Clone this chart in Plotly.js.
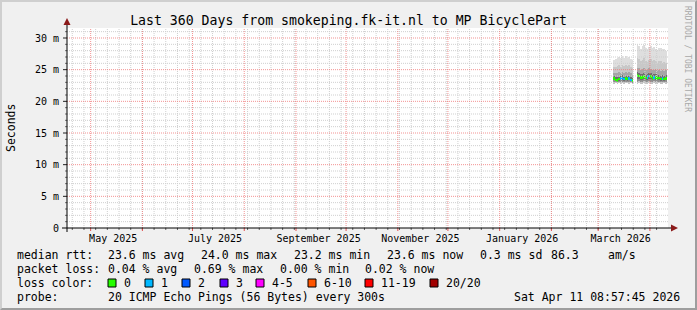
<!DOCTYPE html>
<html><head><meta charset="utf-8">
<script src="https://cdn.plot.ly/plotly-3.0.1.min.js"></script>
<style>
html,body{margin:0;padding:0;background:#f0f0f0;}
#wrap{position:relative;width:697px;height:310px;overflow:hidden;}
#chart{width:697px;height:310px;}
#frame{position:absolute;left:0;top:0;width:693px;height:306px;border:2px solid;border-color:#cfcfcf #9e9e9e #9e9e9e #cfcfcf;pointer-events:none;}
</style></head>
<body><div id="wrap"><div id="chart"></div><div id="frame"></div></div>
<script>
// ---------------- data ----------------
const days = ['2026-03-10','2026-03-11','2026-03-12','2026-03-13','2026-03-14','2026-03-15','2026-03-16','2026-03-17','2026-03-18','2026-03-19','2026-03-20','2026-03-21',
  '2026-03-24','2026-03-25','2026-03-26','2026-03-27','2026-03-28','2026-03-29','2026-03-30','2026-03-31','2026-04-01','2026-04-02','2026-04-03','2026-04-04','2026-04-05','2026-04-06','2026-04-07','2026-04-08','2026-04-09','2026-04-10'];
const pingMin = [22.8,22.9,22.8,22.9,22.8,22.9,22.8,22.9,22.9,22.8,22.9,22.7,
  22.8,22.9,22.8,22.8,22.9,22.8,22.8,22.9,22.8,22.8,22.9,22.8,22.8,22.9,22.8,22.8,22.9,22.8];
const ping10 = [23.0,23.1,23.0,23.1,23.0,23.1,23.0,23.1,23.1,23.0,23.1,22.9,
  23.1,23.2,23.1,23.1,23.2,23.1,23.1,23.2,23.1,23.1,23.2,23.1,23.1,23.1,23.0,23.1,23.1,23.0];
const ping25 = [23.3,23.2,23.1,23.2,23.3,23.3,23.2,23.3,23.2,23.3,23.2,23.1,
  23.6,23.5,23.4,23.4,23.5,23.4,23.4,23.6,23.5,23.3,23.5,23.4,23.3,23.4,23.2,23.3,23.2,23.3];
const median = [23.6,23.4,23.3,23.5,23.6,23.7,23.5,23.6,23.5,23.6,23.4,23.3,
  24.1,24.0,23.8,23.8,23.9,23.7,23.8,24.0,23.9,23.6,23.8,23.8,23.6,23.7,23.5,23.6,23.5,23.6];
const ping75 = [24.0,23.9,23.8,23.9,24.0,24.1,23.9,24.0,23.9,24.0,23.9,23.7,
  24.6,24.5,24.3,24.3,24.4,24.2,24.3,24.5,24.4,24.1,24.3,24.3,24.1,24.2,24.0,24.1,24.0,24.1];
const ping90 = [24.5,24.4,24.5,24.6,24.5,24.7,24.5,24.6,24.5,24.6,24.4,24.2,
  25.3,25.2,25.0,25.1,25.2,24.9,25.0,25.2,25.1,24.9,25.0,25.1,24.8,25.0,24.8,24.9,24.8,24.9];
const ping95 = [25.4,25.5,25.6,25.7,25.5,25.8,25.6,25.8,25.6,25.7,25.4,25.2,
  26.8,26.7,26.3,26.6,26.8,26.4,26.2,26.6,26.7,26.3,26.5,26.3,26.1,26.4,26.3,26.1,26.2,26.0];
const pingMax = [26.5,26.7,26.9,27.0,26.8,27.1,26.9,27.2,26.9,27.0,26.7,26.6,
  28.9,28.8,28.3,28.7,28.9,28.5,28.2,28.6,28.8,28.4,28.6,28.3,28.1,28.5,28.4,28.2,28.3,28.0];
const lostPings = [0,0,0,0,1,1,1,0,0,1,1,0,
  0,0,0,0,0,0,1,1,0,0,1,0,0,0,0,1,0,0];

const lossLabels = ['0','1','2','3','4-5','6-10','11-19','20/20'];
const lossColors = ['#26ff00','#00b8ff','#0059ff','#5e00ff','#ff00ff','#ff5500','#ff0000','#a10000'];
const lossUpper  = [0,1,2,3,5,10,19,20];

const yTickVals = [0,5,10,15,20,25,30];
const yTickText = ['0','5 m','10 m','15 m','20 m','25 m','30 m'];
const labelMonths = ['2025-05','2025-07','2025-09','2025-11','2026-01','2026-03'];
const labelTexts = ['May 2025','July 2025','September 2025','November 2025','January 2026','March 2026'];

const legendRtt = [['median rtt:',16],['23.6 ms avg',107],['24.0 ms max',200],['23.2 ms min',293],['23.6 ms now',386],['0.3 ms sd',479],['86.3',550],['am/s',607]];
const legendLoss = [['packet loss:',16],['0.04 % avg',107],['0.69 % max',193],['0.00 % min',279],['0.02 % now',364]];
const titleText = 'Last 360 Days from smokeping.fk-it.nl to MP BicyclePart';

// ---------------- helpers ----------------
const DAY = 86400000;
const L = 67, PW = 601, BOT = 228, PH = 200;
const px = p => (p - L) / PW;
const py = p => (BOT - p) / PH;
const xStart = '2025-04-16 20:00', xEnd = '2026-04-11 20:00';
const FONT = 'DejaVu Sans Mono';
const xs = days.map(d => d + ' 12:00');
const colorFor = n => { for (let i = 0; i < lossUpper.length; i++) if (n <= lossUpper[i]) return lossColors[i]; return lossColors[lossColors.length-1]; };

function band(lo, hi, color) {
  return {type:'bar', x: xs, base: lo, y: hi.map((v,i) => v - lo[i]), width: DAY,
    marker:{color: color, line:{width:0}}, hoverinfo:'skip', showlegend:false};
}
const traces = [
  band(pingMin, ping10, '#c4c4c4'),
  band(ping10, ping25, '#8e8e8e'),
  band(ping25, ping75, '#6e6e6e'),
  band(ping75, ping90, '#a6a6a6'),
  band(ping90, ping95, '#c8c8c8'),
  band(ping95, pingMax, '#dedede'),
  {type:'bar', x: xs, base: median.map(v => v - 0.2), y: median.map(() => 0.4), width: DAY,
   marker:{color: lostPings.map(colorFor), line:{width:0}}, hoverinfo:'skip', showlegend:false}
];

// ---------------- grid & axes as shapes ----------------
const shapes = [];
const t1 = new Date('2026-04-11T20:00:00Z').getTime();
const fmt = t => new Date(t).toISOString().slice(0,19).replace('T',' ');
// minor weekly (Sundays)
for (let t = new Date('2025-04-20T00:00:00Z').getTime(); t < t1; t += 7*DAY) {
  shapes.push({type:'line', xref:'x', yref:'paper', x0:fmt(t), x1:fmt(t), y0:0, y1:1, layer:'above',
    line:{color:'#cfcfcf', width:1, dash:'1px,1px'}});
  shapes.push({type:'line', xref:'x', yref:'paper', x0:fmt(t), x1:fmt(t), y0:0, y1:py(230), layer:'above',
    line:{color:'#606060', width:1}});
}
// minor horizontal each 1 ms
for (let v = 1; v <= 31; v++) {
  if (v % 5 === 0) continue;
  shapes.push({type:'line', xref:'paper', yref:'y', x0:0, x1:1, y0:v, y1:v, layer:'above',
    line:{color:'#cfcfcf', width:1, dash:'1px,1px'}});
  shapes.push({type:'line', xref:'paper', yref:'y', x0:px(65), x1:px(67), y0:v, y1:v, layer:'above',
    line:{color:'#707070', width:1}});
}
// major monthly
for (let y = 2025, m = 4; ; m++) {
  if (m > 11) { m = 0; y++; }
  const t = Date.UTC(y, m, 1);
  if (t > t1) break;
  shapes.push({type:'line', xref:'x', yref:'paper', x0:fmt(t), x1:fmt(t), y0:0, y1:1, layer:'above',
    line:{color:'rgba(240,120,120,0.8)', width:1, dash:'1px,1px'}});
  shapes.push({type:'line', xref:'x', yref:'paper', x0:fmt(t), x1:fmt(t), y0:0, y1:py(231), layer:'above',
    line:{color:'#e05050', width:1}});
}
// major horizontal
yTickVals.forEach(v => {
  if (v === 0) return;
  shapes.push({type:'line', xref:'paper', yref:'y', x0:0, x1:1, y0:v, y1:v, layer:'above',
    line:{color:'rgba(240,120,120,0.8)', width:1, dash:'1px,1px'}});
  shapes.push({type:'line', xref:'paper', yref:'y', x0:px(63), x1:px(67), y0:v, y1:v, layer:'above',
    line:{color:'#202020', width:1}});
});
// axes lines + arrows
shapes.push({type:'line', xref:'paper', yref:'paper', x0:px(62), x1:px(674), y0:0, y1:0, layer:'above', line:{color:'#000', width:1}});
shapes.push({type:'line', xref:'paper', yref:'paper', x0:0, x1:0, y0:py(232), y1:py(23), layer:'above', line:{color:'#000', width:1}});
shapes.push({type:'path', xref:'paper', yref:'paper', layer:'above',
  path:`M ${px(671)} ${py(224.5)} L ${px(678)} ${py(228)} L ${px(671)} ${py(231.5)} Z`, fillcolor:'#8b1a1a', line:{width:0}});
shapes.push({type:'path', xref:'paper', yref:'paper', layer:'above',
  path:`M ${px(63.5)} ${py(25)} L ${px(67)} ${py(18)} L ${px(70.5)} ${py(25)} Z`, fillcolor:'#8b1a1a', line:{width:0}});

// ---------------- annotations ----------------
const ann = [];
const txt = (text, x, y, opts={}) => ann.push(Object.assign({text, xref:'paper', yref:'paper', x:px(x), y:py(y),
  xanchor:'left', yanchor:'middle', showarrow:false, borderpad:0, font:{family:FONT, size:11.5, color:'#000'}}, opts));

legendRtt.forEach(([t,x]) => txt(t, x, 255));
legendLoss.forEach(([t,x]) => txt(t, x, 269));
txt('loss color:', 16, 283);
const boxX = [108,145,182,220,256,308,365,430];
lossLabels.forEach((lab,i) => {
  shapes.push({type:'rect', xref:'paper', yref:'paper', layer:'above', x0:px(boxX[i]), x1:px(boxX[i]+8), y0:py(287), y1:py(279),
    fillcolor: lossColors[i], line:{color:'#000', width:1}});
  txt(lab, boxX[i]+15, 283);
});
txt('probe:', 16, 297);
txt('20 ICMP Echo Pings (56 Bytes) every 300s', 107, 297);
txt('Sat Apr 11 08:57:45 2026', 681, 297, {xanchor:'right'});
txt('Seconds', 11, 128, {xanchor:'center', textangle:-90, font:{family:FONT, size:11.5, color:'#000'}});
txt('RRDTOOL / TOBI OETIKER', 688, 59, {xanchor:'center', textangle:90, font:{family:FONT, size:8, color:'#a8a8a8'}});

const labelVals = labelMonths.map(m => fmt(new Date(m + '-01T00:00:00Z').getTime() + 13.5*DAY));

const layout = {
  width:697, height:310,
  margin:{l:L, r:697-L-PW, t:28, b:310-BOT},
  paper_bgcolor:'#f0f0f0', plot_bgcolor:'#ffffff',
  barmode:'overlay', bargap:0,
  showlegend:false,
  title:{text:titleText, font:{family:FONT, size:13.2, color:'#000'}, x:0.5, xref:'container', xanchor:'center', y:1-20/310, yref:'container', yanchor:'middle'},
  xaxis:{type:'date', range:[xStart, xEnd], tickmode:'array', tickvals:labelVals, ticktext:labelTexts,
    ticks:'', showgrid:false, zeroline:false, showline:false, ticklabelstandoff:3,
    tickfont:{family:FONT, size:10, color:'#000'}, fixedrange:true},
  yaxis:{range:[0, 31.58], tickmode:'array', tickvals:yTickVals, ticktext:yTickText,
    ticks:'', showgrid:false, zeroline:false, showline:false, ticklabelstandoff:7,
    tickfont:{family:FONT, size:10, color:'#000'}, fixedrange:true},
  shapes, annotations: ann
};
Plotly.newPlot('chart', traces, layout, {staticPlot:true, displayModeBar:false});
</script>
</body></html>
